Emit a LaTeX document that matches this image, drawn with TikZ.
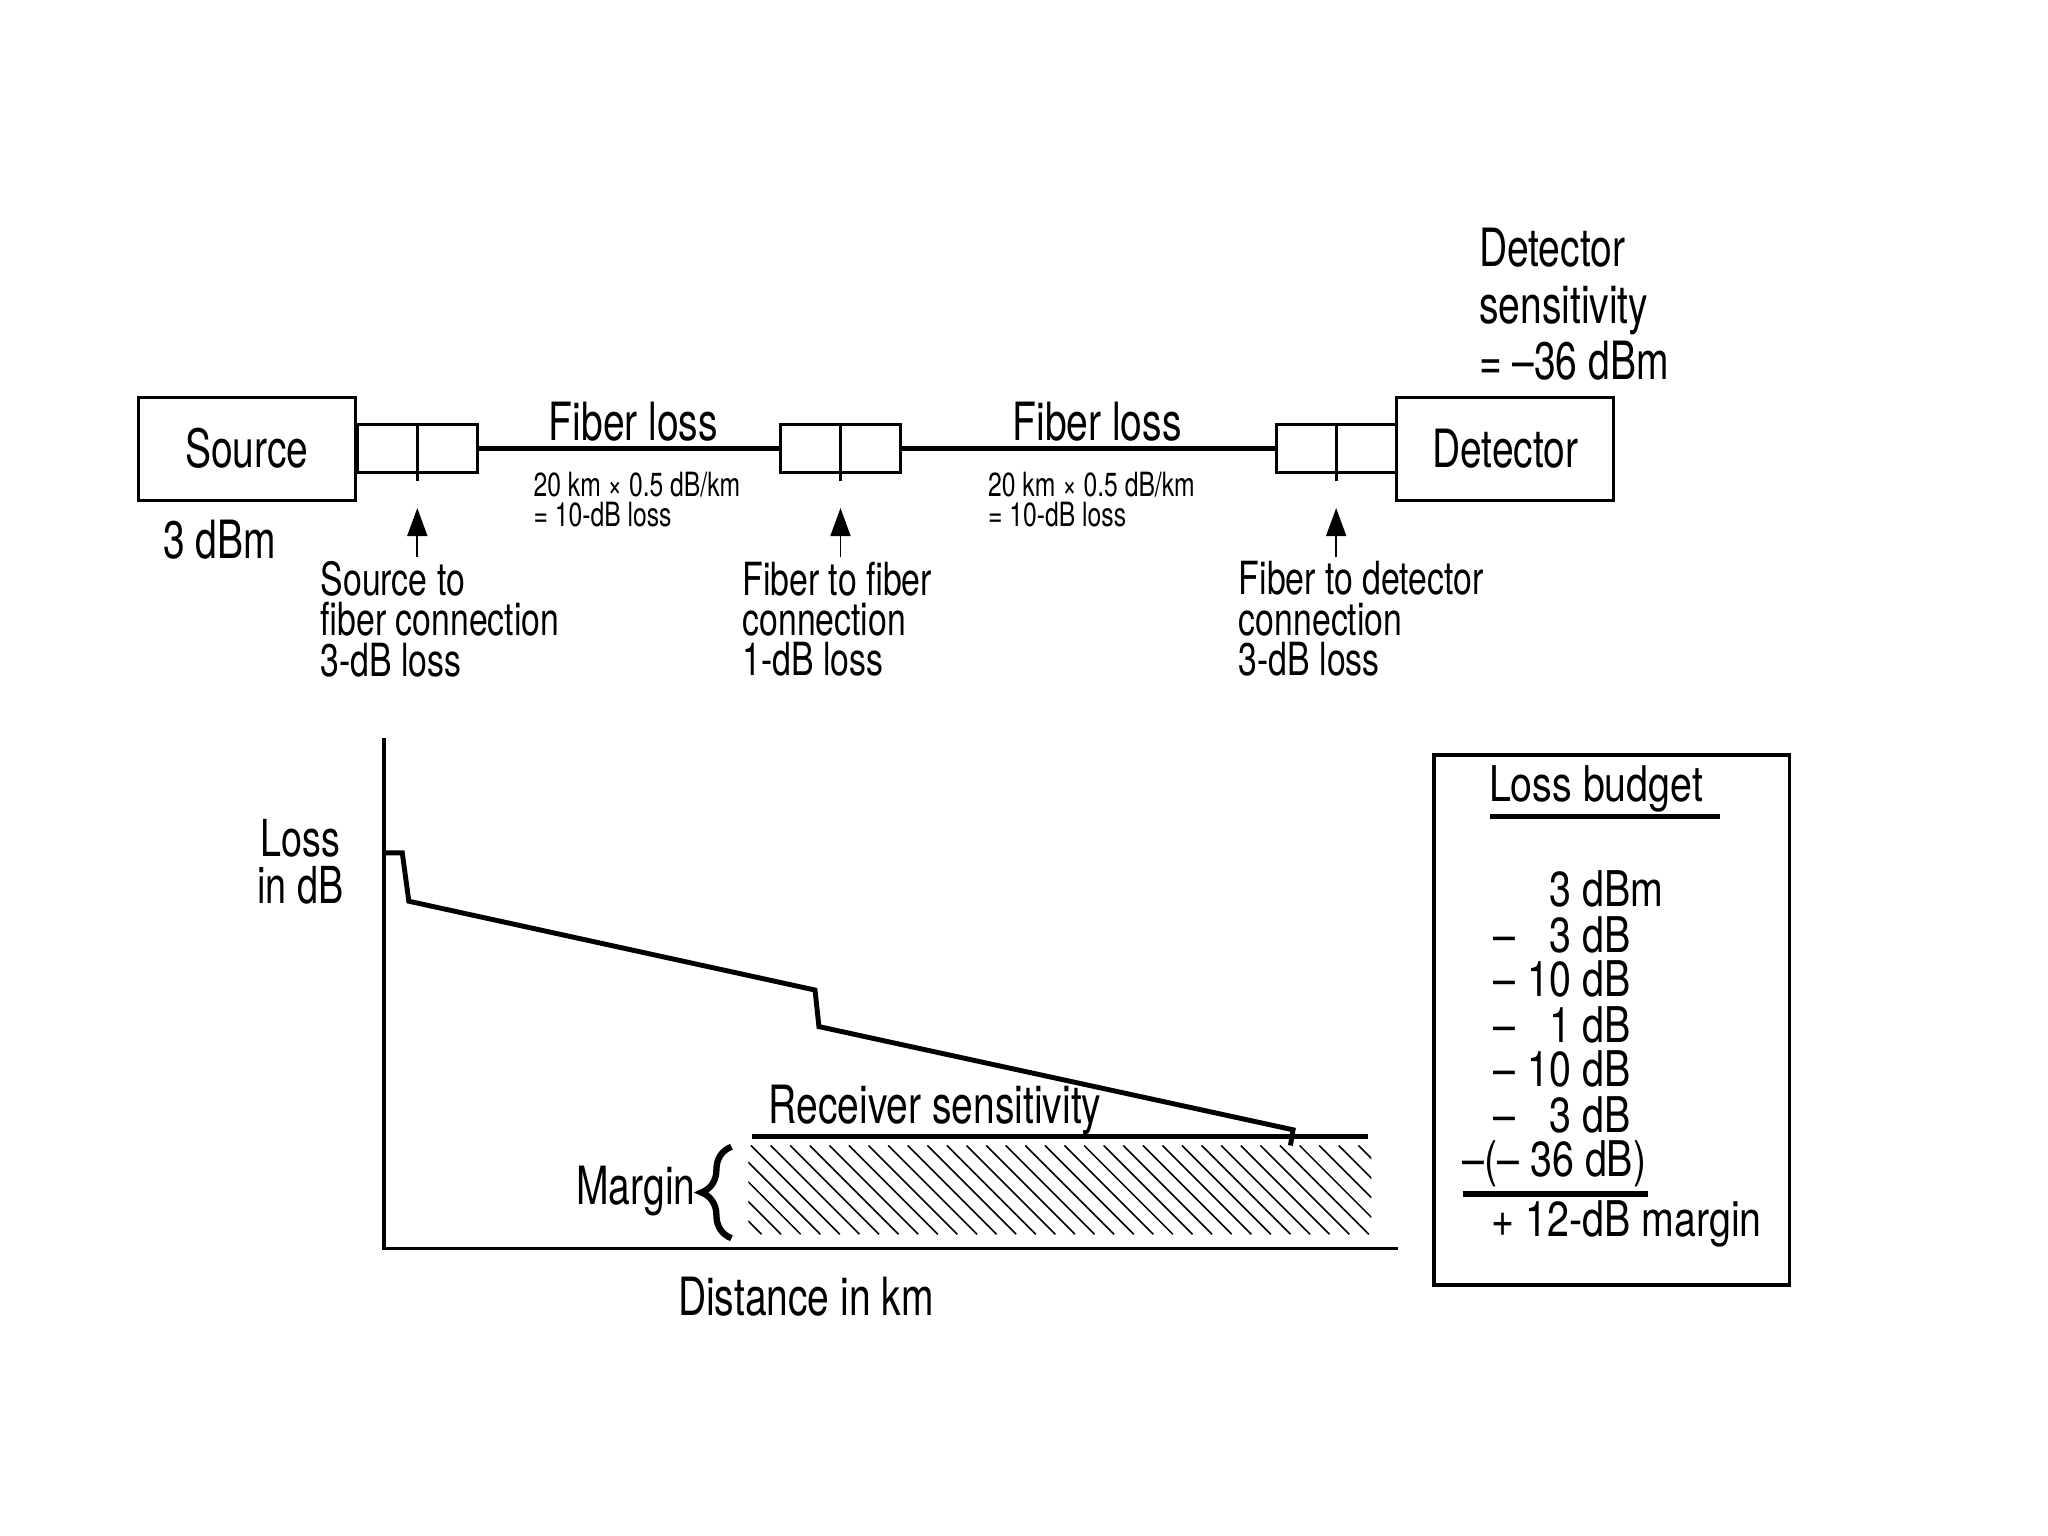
\documentclass[tikz,border=0pt]{standalone}
\usepackage{fontspec}
\setmainfont{TeX Gyre Heros}[FakeStretch=0.74]
\newfontfamily\budgetfont{TeX Gyre Heros}[FakeStretch=0.8]
\usetikzlibrary{arrows.meta,positioning,decorations.pathreplacing}
\tikzset{
  unitbox/.style={draw,line width=0.8pt,minimum width=2.17cm,minimum height=1.03cm,inner sep=0pt},
  plug/.style={draw,line width=0.8pt,minimum width=1.2cm,minimum height=0.48cm,inner sep=0pt},
  fiber/.style={line width=1.6pt},
  ptr/.style={-{Triangle[length=2.8mm,width=2mm]},line width=0.5pt},
  bigtxt/.style={font=\fontsize{15}{16}\selectfont},
  lab/.style={font=\fontsize{13}{11.5}\selectfont,align=left,anchor=west,inner sep=0pt},
  spec/.style={font=\fontsize{9.5}{8.6}\selectfont,align=left,anchor=west,inner sep=0pt},
  bud/.style={font=\budgetfont\fontsize{14}{14}\selectfont,inner sep=0pt}
}
\begin{document}
\begin{tikzpicture}[x=0.013061cm,y=-0.013061cm]
\useasboundingbox (0,0) rectangle (1568,1176);
% link: source, three plugs, detector
\node[unitbox,bigtxt] (src) at (189,343.5) {Source};
\node[plug] (c1) at (319.5,343.5) {};
\node[plug] (c2) at (643.5,343.5) {};
\node[plug] (c3) at (1023,343.5) {};
\node[unitbox,bigtxt] (det) at (1152.5,343.5) {Detector};
\foreach \c in {c1,c2,c3}{
  \draw[line width=0.8pt] (\c.north) -- ([yshift=-2pt]\c.south);}
\draw[fiber] (c1) -- (c2);
\draw[fiber] (c2) -- (c3);
\node[bigtxt,anchor=base] (fl1) at (485,337) {Fiber loss};
\node[bigtxt,anchor=base] (fl2) at (840,337) {Fiber loss};
\node[spec] (sp1) at (408,382.5) {20 km × 0.5 dB/km\\= 10-dB loss};
\node[spec] (sp2) at (756,382.5) {20 km × 0.5 dB/km\\= 10-dB loss};
\node[bigtxt] (pw) at (168,413) {3 dBm};
\node[bigtxt,align=left,anchor=west,inner sep=0pt] (sens) at (1132,233) {Detector\\sensitivity\\=\kern3pt –36 dBm};
% connection losses, arrow up to each plug
\foreach \c/\n/\x/\t in {c1/l1/245/{Source to\\fiber connection\\3-dB loss},
    c2/l2/568/{Fiber to fiber\\connection\\1-dB loss},
    c3/l3/948/{Fiber to detector\\connection\\3-dB loss}}{
  \node[lab] (\n) at (\x,474) {\t};
  \draw[ptr,shorten >=0.34cm,shorten <=1pt] (\c.south |- \n.north) -- (\c.south);}
% loss vs distance plot
\draw[line width=1pt] (294,565) -- (294,956) -- (1070,956);
\draw[line width=1.4pt,line join=miter] (294,653) -- (308,653) -- (313,690) -- (624,758)
  -- (627,786) -- (990,865) -- (988,877);
\draw[line width=1.4pt] (576,870) -- (1047,870);
\begin{scope}
  \clip (573,877) rectangle (1050,945);
  \foreach \x in {500,515,...,1050} \draw[line width=0.45pt] (\x,877) -- ++(68,68);
\end{scope}
\draw[decorate,decoration={brace,amplitude=0.3cm,aspect=0.5},line width=1.8pt] (560,948) -- (560,878);
\node[font=\fontsize{14.5}{13.5}\selectfont,align=center,inner sep=0pt] (lossax) at (230,660) {Loss\\in dB};
\node[bigtxt] (rs) at (716,850) {Receiver sensitivity};
\node[bigtxt,anchor=east,inner sep=0pt] (mg) at (533,912) {Margin};
\node[bigtxt] (dist) at (617,993) {Distance in km};
% loss budget box, "dB" right edges at x=1247
\node[draw,line width=1pt,minimum width=3.553cm,minimum height=5.303cm] (budget) at (1234,781) {};
\node[bud,anchor=base] (bt) at (1222,614) {Loss budget};
\draw[line width=1.4pt] (1141,625) -- (1317,625);
\foreach \y/\s/\v in {694//{3 dB\rlap{m}},729/–/{3 dB},763/–/{10 dB},798/–/{1 dB},832/–/{10 dB},867/–/{3 dB}}{
  \node[bud,anchor=base east] (amt\y) at (1249,\y) {\v};
  \node[bud,anchor=base] (sgn\y) at (1152,\y) {\s};}
\node[bud,anchor=base east] (tot) at (1261,901) {–(– 36 dB)};
\draw[line width=1.6pt] (1120,914) -- (1262,914);
\node[bud,anchor=base east] (mar) at (1249,947) {+ 12-dB\rlap{ margin}};
\end{tikzpicture}
\end{document}
